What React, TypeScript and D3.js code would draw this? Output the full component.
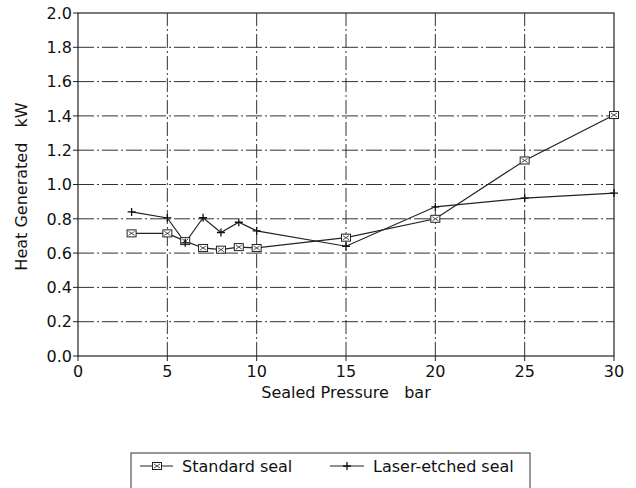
import React from 'react';
import * as d3 from 'd3';

// pressure (bar)
const pressures = [3, 5, 6, 7, 8, 9, 10, 15, 20, 25, 30];
// heat generated (kW)
const standardSeal = [0.715, 0.715, 0.67, 0.63, 0.62, 0.635, 0.63, 0.69, 0.8, 1.14, 1.405];
const laserSeal = [0.84, 0.805, 0.66, 0.806, 0.72, 0.78, 0.73, 0.64, 0.87, 0.92, 0.95];

const xTicks = [0, 5, 10, 15, 20, 25, 30];
const yTicks = [0, 0.2, 0.4, 0.6, 0.8, 1.0, 1.2, 1.4, 1.6, 1.8, 2.0];
const seriesNames = ['Standard seal', 'Laser-etched seal'];

const W = 636;
const H = 488;
const M = { left: 78, right: 20, top: 13, bottom: 132 };

const font = '"DejaVu Sans", Arial, sans-serif';

const SquareMark = ({ x, y }: { x: number; y: number }) => (
  <g transform={`translate(${x},${y})`} stroke="#222" fill="#fff" strokeWidth={1}>
    <rect x={-4.5} y={-3.5} width={9} height={7} />
    <path d="M-3,-2 L3,2 M-3,2 L3,-2" strokeWidth={0.8} />
  </g>
);

const PlusMark = ({ x, y }: { x: number; y: number }) => (
  <path
    d={`M${x - 4},${y} L${x + 4},${y} M${x},${y - 4} L${x},${y + 4}`}
    stroke="#111"
    strokeWidth={1.3}
  />
);

export default function App() {
  const x = d3.scaleLinear().domain([0, 30]).range([M.left, W - M.right - 2]);
  const y = d3.scaleLinear().domain([0, 2]).range([H - M.bottom, M.top]);

  const line = d3
    .line<number>()
    .x((_, i) => x(pressures[i]))
    .y((d) => y(d));

  const x0 = x(0);
  const x1 = x(30);
  const y0 = y(0);
  const y1 = y(2);

  return (
    <svg width={W} height={H} style={{ position: 'absolute', left: 0, top: 0, background: '#fff' }}>
      {/* grid */}
      {yTicks.slice(1, -1).map((t) => (
        <line key={'gy' + t} x1={x0} x2={x1} y1={y(t)} y2={y(t)} stroke="#333" strokeWidth={1} strokeDasharray="16,3,2,3" />
      ))}
      {xTicks.slice(1, -1).map((t) => (
        <line key={'gx' + t} x1={x(t)} x2={x(t)} y1={y0} y2={y1} stroke="#333" strokeWidth={1} strokeDasharray="14,3,2,3" />
      ))}

      {/* frame */}
      <rect x={x0} y={y1} width={x1 - x0} height={y0 - y1} fill="none" stroke="#222" strokeWidth={1.2} />

      {/* y ticks */}
      {yTicks.map((t) => (
        <g key={'ty' + t}>
          <line x1={x0 - 5} x2={x0} y1={y(t)} y2={y(t)} stroke="#222" />
          <text x={x0 - 6} y={y(t)} dy="0.36em" textAnchor="end" fontFamily={font} fontSize={16} fill="#111">
            {t.toFixed(1)}
          </text>
        </g>
      ))}
      {/* x ticks */}
      {xTicks.map((t) => (
        <g key={'tx' + t}>
          <line x1={x(t)} x2={x(t)} y1={y0} y2={y0 + 5} stroke="#222" />
          <text x={x(t)} y={y0 + 21} textAnchor="middle" fontFamily={font} fontSize={16} fill="#111">
            {t}
          </text>
        </g>
      ))}

      {/* axis titles */}
      <text x={(x0 + x1) / 2} y={398} textAnchor="middle" fontFamily={font} fontSize={16} fill="#111" style={{ whiteSpace: 'pre' }}>
        {'Sealed Pressure   bar'}
      </text>
      <text
        transform={`translate(27,${(y0 + y1) / 2 + 2}) rotate(-90)`}
        textAnchor="middle"
        fontFamily={font}
        fontSize={16}
        fill="#111"
        style={{ whiteSpace: 'pre' }}
      >
        {'Heat Generated   kW'}
      </text>

      {/* series */}
      <path d={line(standardSeal) || ''} fill="none" stroke="#222" strokeWidth={1.2} />
      <path d={line(laserSeal) || ''} fill="none" stroke="#222" strokeWidth={1.2} />
      {standardSeal.map((v, i) => (
        <SquareMark key={'s' + i} x={x(pressures[i])} y={y(v)} />
      ))}
      {laserSeal.map((v, i) => (
        <PlusMark key={'l' + i} x={x(pressures[i])} y={y(v)} />
      ))}

      {/* legend */}
      <rect x={131} y={453} width={399} height={40} fill="#fff" stroke="#333" strokeWidth={1} />
      <line x1={140} x2={173} y1={466} y2={466} stroke="#222" strokeWidth={1.2} />
      <SquareMark x={157} y={466} />
      <text x={182} y={472} fontFamily={font} fontSize={16} fill="#111">
        {seriesNames[0]}
      </text>
      <line x1={330} x2={364} y1={466} y2={466} stroke="#222" strokeWidth={1} />
      <PlusMark x={347} y={466} />
      <text x={373} y={472} fontFamily={font} fontSize={16} fill="#111">
        {seriesNames[1]}
      </text>
    </svg>
  );
}
